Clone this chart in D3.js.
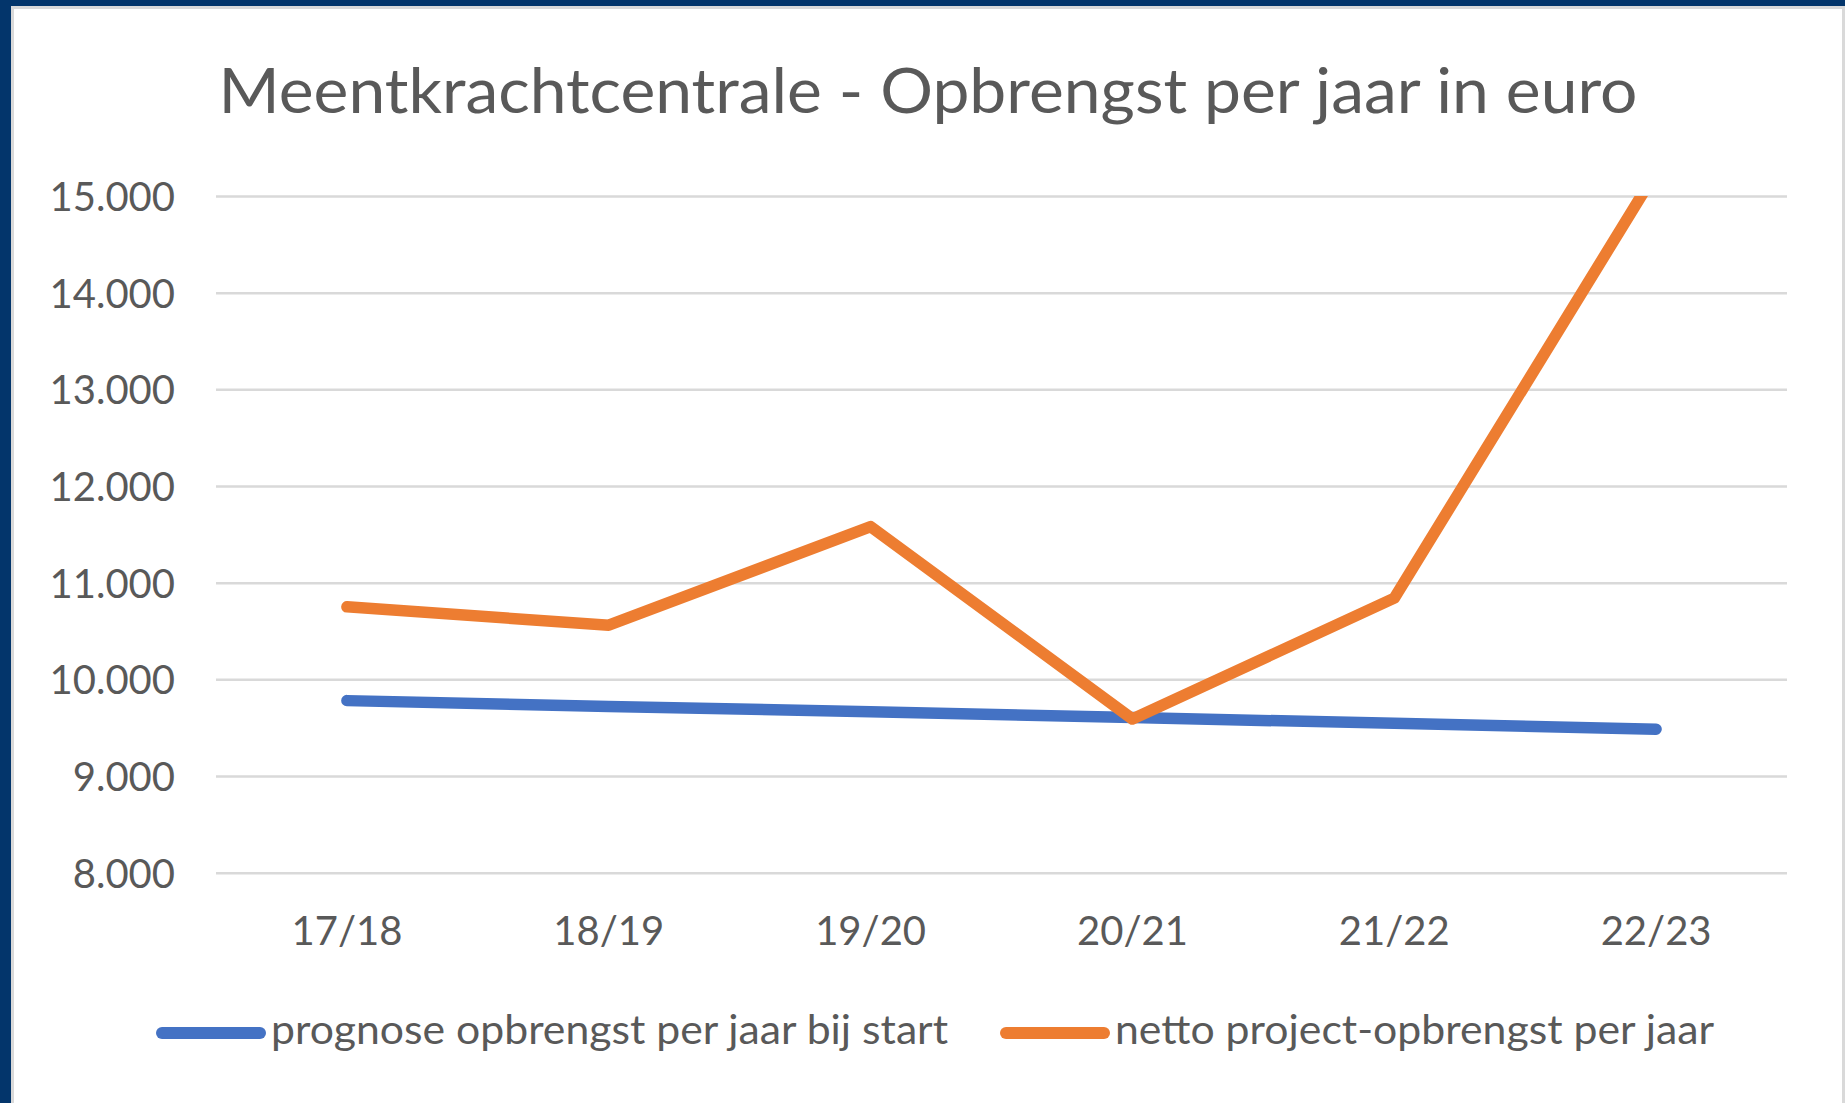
<!DOCTYPE html>
<html>
<head>
<meta charset="utf-8">
<script src="https://cdn.jsdelivr.net/npm/d3@7"></script>
<style>
  html, body { margin: 0; padding: 0; background: #03356b; overflow: hidden; }
  svg { display: block; }
  text { font-family: Lato, "Open Sans", sans-serif; fill: #595959; }
</style>
</head>
<body>
<svg id="chart" width="1845" height="1103"></svg>
<script>
// ---- data ----
const titleText = "Meentkrachtcentrale - Opbrengst per jaar in euro";
const categories = ["17/18", "18/19", "19/20", "20/21", "21/22", "22/23"];
const prognose = [9780, 9720, 9665, 9605, 9545, 9485];
const netto = [10750, 10560, 11580, 9590, 10840, 15250];
const yTicks = [8000, 9000, 10000, 11000, 12000, 13000, 14000, 15000];
const seriesNames = ["prognose opbrengst per jaar bij start", "netto project-opbrengst per jaar"];
const seriesColors = ["#4472C4", "#ED7D31"];

// ---- layout ----
const W = 1845, H = 1103;
const plot = { left: 216, right: 1787, top: 196, bottom: 872.7 };
const svg = d3.select("#chart");

// frame
svg.append("rect").attr("x", 0).attr("y", 0).attr("width", W).attr("height", H).attr("fill", "#03356b");
svg.append("rect").attr("x", 11).attr("y", 6).attr("width", W - 11).attr("height", H + 20).attr("fill", "#d9d9d9");
svg.append("rect").attr("x", 14).attr("y", 9).attr("width", W - 14 - 3).attr("height", H + 20).attr("fill", "#ffffff");

const chartCenter = (14 + (W - 3)) / 2;

// scales
const x = d3.scaleBand().domain(categories).range([plot.left, plot.right]).padding(0);
const y = d3.scaleLinear().domain([8000, 15000]).range([plot.bottom, plot.top]);
const nl = d3.formatLocale({ decimal: ",", thousands: ".", grouping: [3], currency: ["€", ""] });
const fmt = nl.format(",d");

// y axis + gridlines
const yAxis = svg.append("g")
  .attr("transform", `translate(${plot.left},0)`)
  .call(d3.axisLeft(y).tickValues(yTicks).tickFormat(fmt)
    .tickSizeInner(-(plot.right - plot.left)).tickSizeOuter(0).tickPadding(41));
yAxis.select(".domain").remove();
yAxis.selectAll(".tick line").attr("stroke", "#d9d9d9").attr("stroke-width", 2.5);
yAxis.selectAll(".tick text")
  .attr("font-size", 40).attr("fill", "#595959")
  .attr("font-family", "Lato, 'Open Sans', sans-serif")
  .attr("dy", "0.36em");

// x axis
const xAxis = svg.append("g")
  .attr("transform", `translate(0,${plot.bottom})`)
  .call(d3.axisBottom(x).tickSize(0).tickPadding(44));
xAxis.select(".domain").remove();
xAxis.selectAll(".tick text")
  .attr("font-size", 40).attr("fill", "#595959")
  .attr("font-family", "Lato, 'Open Sans', sans-serif");

// clip to plot area
svg.append("defs").append("clipPath").attr("id", "plotClip")
  .append("rect").attr("x", 0).attr("y", plot.top).attr("width", W).attr("height", plot.bottom - plot.top + 20);

const line = d3.line()
  .x((d, i) => x(categories[i]) + x.bandwidth() / 2)
  .y(d => y(d));

const series = [prognose, netto];
svg.append("g").attr("clip-path", "url(#plotClip)")
  .selectAll("path").data(series).join("path")
  .attr("d", d => line(d))
  .attr("fill", "none")
  .attr("stroke", (d, i) => seriesColors[i])
  .attr("stroke-width", 11.5)
  .attr("stroke-linecap", "round")
  .attr("stroke-linejoin", "round");

// title
const title = svg.append("text")
  .attr("x", chartCenter).attr("y", 113.3)
  .attr("text-anchor", "middle")
  .attr("font-size", 61.4)
  .text(titleText);
title.attr("textLength", 1419).attr("lengthAdjust", "spacingAndGlyphs");

// legend
const legendY = 1033;
const legendTextWidths = [677, 599];
const symLen = 98, symGap = 11, itemGap = 52;
let totalW = 0;
seriesNames.forEach((n, i) => { totalW += symLen + 6 + symGap + legendTextWidths[i] + (i < seriesNames.length - 1 ? itemGap : 0); });
let lx = chartCenter - totalW / 2 + 6 + 3 + 4;
const legend = svg.append("g");
seriesNames.forEach((n, i) => {
  legend.append("line")
    .attr("x1", lx).attr("x2", lx + symLen)
    .attr("y1", legendY).attr("y2", legendY)
    .attr("stroke", seriesColors[i]).attr("stroke-width", 12).attr("stroke-linecap", "round");
  const tx = lx + symLen + symGap;
  legend.append("text")
    .attr("x", tx).attr("y", legendY + 11)
    .attr("font-size", 40)
    .attr("textLength", legendTextWidths[i]).attr("lengthAdjust", "spacingAndGlyphs")
    .text(n);
  lx = tx + legendTextWidths[i] + itemGap + 6;
});
</script>
</body>
</html>
